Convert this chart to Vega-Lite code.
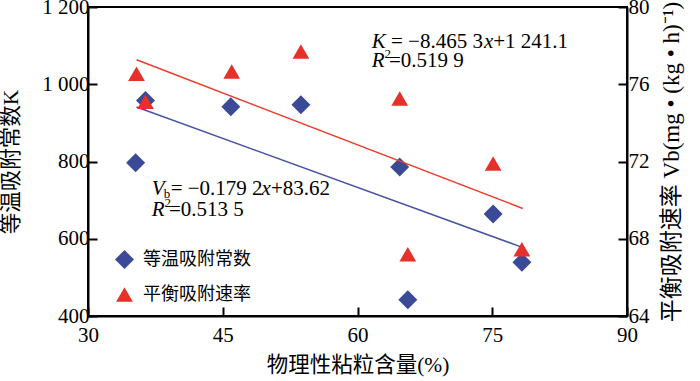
{
  "$schema": "https://vega.github.io/schema/vega-lite/v6.json",
  "width": 539,
  "height": 309,
  "autosize": {"type": "none"},
  "padding": {"left": 88, "top": 7, "right": 73, "bottom": 65},
  "config": {
    "view": {"stroke": "#000", "strokeWidth": 2},
    "axis": {
      "grid": false,
      "domainColor": "#000",
      "domainWidth": 2,
      "tickColor": "#000",
      "tickWidth": 2,
      "tickSize": -9,
      "labelFont": "Liberation Serif",
      "labelFontSize": 21,
      "labelColor": "#000",
      "titleFont": "Liberation Serif, Noto Sans CJK SC",
      "titleFontSize": 21.5,
      "titleFontWeight": "normal",
      "titleColor": "#000",
      "labelFlush": false,
      "labelOverlap": false
    }
  },
  "datasets": {
    "kPoints": [
      {"x": 35.3, "K": 797, "series": "等温吸附常数"},
      {"x": 36.4, "K": 958, "series": "等温吸附常数"},
      {"x": 45.9, "K": 942, "series": "等温吸附常数"},
      {"x": 53.7, "K": 947, "series": "等温吸附常数"},
      {"x": 64.7, "K": 786, "series": "等温吸附常数"},
      {"x": 65.6, "K": 442, "series": "等温吸附常数"},
      {"x": 75.1, "K": 664, "series": "等温吸附常数"},
      {"x": 78.3, "K": 539, "series": "等温吸附常数"}
    ],
    "vbPoints": [
      {"x": 35.4, "Vb": 76.54, "series": "平衡吸附速率"},
      {"x": 36.4, "Vb": 75.1, "series": "平衡吸附速率"},
      {"x": 46.0, "Vb": 76.66, "series": "平衡吸附速率"},
      {"x": 53.7, "Vb": 77.7, "series": "平衡吸附速率"},
      {"x": 64.7, "Vb": 75.26, "series": "平衡吸附速率"},
      {"x": 65.6, "Vb": 67.2, "series": "平衡吸附速率"},
      {"x": 75.1, "Vb": 71.9, "series": "平衡吸附速率"},
      {"x": 78.3, "Vb": 67.46, "series": "平衡吸附速率"}
    ],
    "kLine": [
      {"x": 35.4, "K": 941},
      {"x": 78.2, "K": 579}
    ],
    "vbLine": [
      {"x": 35.4, "Vb": 77.27},
      {"x": 78.4, "Vb": 69.57}
    ],
    "eqItalic": [
      {"x": 61.58, "K": 1093, "text": "K"},
      {"x": 74.07, "K": 1093, "text": "x"},
      {"x": 61.58, "K": 1045, "text": "R"},
      {"x": 37.09, "K": 713, "text": "V"},
      {"x": 49.3, "K": 713, "text": "x"},
      {"x": 37.09, "K": 659, "text": "R"}
    ],
    "eqRoman": [
      {"x": 63.73, "K": 1093, "text": "= −8.465 3"},
      {"x": 75.1, "K": 1093, "text": "+1 241.1"},
      {"x": 63.51, "K": 1045, "text": "=0.519 9"},
      {"x": 39.2, "K": 713, "text": "= −0.179 2"},
      {"x": 50.37, "K": 713, "text": "+83.62"},
      {"x": 39.02, "K": 659, "text": "=0.513 5"}
    ],
    "eqSmall": [
      {"x": 63.0, "K": 1068, "text": "2"},
      {"x": 38.42, "K": 705, "text": "b"},
      {"x": 38.52, "K": 683, "text": "2"}
    ]
  },
  "encoding": {
    "x": {
      "field": "x",
      "type": "quantitative",
      "scale": {"domain": [30, 90], "nice": false, "zero": false},
      "axis": {
        "title": "物理性粘粒含量(%)",
        "values": [30, 45, 60, 75, 90],
        "labelPadding": 17,
        "titlePadding": 9
      }
    }
  },
  "layer": [
    {
      "layer": [
        {
          "data": {"name": "kPoints"},
          "mark": {"type": "point", "filled": true, "opacity": 1},
          "encoding": {
            "y": {
              "field": "K",
              "type": "quantitative",
              "title": "等温吸附常数K",
              "scale": {"domain": [400, 1200], "nice": false, "zero": false},
              "axis": {
                "orient": "left",
                "values": [400, 600, 800, 1000, 1200],
                "labelExpr": "datum.value >= 1000 ? floor(datum.value / 1000) + ' ' + format(datum.value % 1000, '03d') : datum.label",
                "labelPadding": 8,
                "titlePadding": 19
              }
            },
            "color": {
              "field": "series",
              "type": "nominal",
              "scale": {"domain": ["等温吸附常数", "平衡吸附速率"], "range": ["#3b4a96", "#e6302a"]},
              "legend": {
                "title": null,
                "orient": "none",
                "legendX": 26,
                "legendY": 242,
                "padding": 0,
                "labelFont": "Noto Sans CJK SC",
                "labelFontSize": 18,
                "labelColor": "#000",
                "labelOffset": 8,
                "rowPadding": 16
              }
            },
            "shape": {
              "field": "series",
              "type": "nominal",
              "scale": {"domain": ["等温吸附常数", "平衡吸附速率"], "range": ["diamond", "triangle-up"]}
            },
            "size": {
              "field": "series",
              "type": "nominal",
              "scale": {"domain": ["等温吸附常数", "平衡吸附速率"], "range": [360, 280]}
            }
          }
        },
        {
          "data": {"name": "kLine"},
          "mark": {"type": "line", "color": "#4753a3", "strokeWidth": 1.5},
          "encoding": {
            "y": {"field": "K", "type": "quantitative", "title": "等温吸附常数K", "scale": {"domain": [400, 1200], "nice": false, "zero": false}}
          }
        },
        {
          "data": {"name": "eqItalic"},
          "mark": {"type": "text", "align": "left", "baseline": "alphabetic", "font": "Liberation Serif", "fontSize": 21, "fontStyle": "italic", "color": "#000"},
          "encoding": {
            "y": {"field": "K", "type": "quantitative", "title": "等温吸附常数K", "scale": {"domain": [400, 1200], "nice": false, "zero": false}},
            "text": {"field": "text"}
          }
        },
        {
          "data": {"name": "eqRoman"},
          "mark": {"type": "text", "align": "left", "baseline": "alphabetic", "font": "Liberation Serif", "fontSize": 21, "color": "#000"},
          "encoding": {
            "y": {"field": "K", "type": "quantitative", "title": "等温吸附常数K", "scale": {"domain": [400, 1200], "nice": false, "zero": false}},
            "text": {"field": "text"}
          }
        },
        {
          "data": {"name": "eqSmall"},
          "mark": {"type": "text", "align": "left", "baseline": "alphabetic", "font": "Liberation Serif", "fontSize": 13, "color": "#000"},
          "encoding": {
            "y": {"field": "K", "type": "quantitative", "title": "等温吸附常数K", "scale": {"domain": [400, 1200], "nice": false, "zero": false}},
            "text": {"field": "text"}
          }
        }
      ]
    },
    {
      "layer": [
        {
          "data": {"name": "vbPoints"},
          "mark": {"type": "point", "filled": true, "opacity": 1},
          "encoding": {
            "y": {
              "field": "Vb",
              "type": "quantitative",
              "title": "平衡吸附速率 Vb(mg • (kg • h)⁻¹)",
              "scale": {"domain": [64, 80], "nice": false, "zero": false},
              "axis": {
                "orient": "right",
                "values": [64, 68, 72, 76, 80],
                "labelPadding": 10,
                "titlePadding": 11,
                "titleAngle": 270,
                "titleBaseline": "top",
                "titleFontSize": 23
              }
            },
            "color": {"field": "series", "type": "nominal"},
            "shape": {"field": "series", "type": "nominal"},
            "size": {"field": "series", "type": "nominal"}
          }
        },
        {
          "data": {"name": "vbLine"},
          "mark": {"type": "line", "color": "#ee3b2c", "strokeWidth": 1.5},
          "encoding": {
            "y": {"field": "Vb", "type": "quantitative", "title": "平衡吸附速率 Vb(mg • (kg • h)⁻¹)", "scale": {"domain": [64, 80], "nice": false, "zero": false}}
          }
        }
      ]
    }
  ],
  "resolve": {"scale": {"y": "independent"}, "axis": {"y": "independent"}}
}
